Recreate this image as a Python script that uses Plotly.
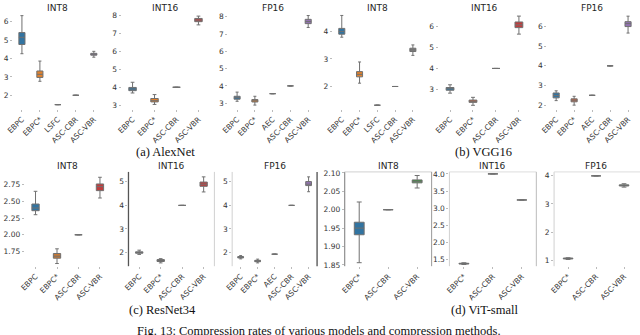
import plotly.graph_objects as go

W, H = 640, 335

# ---------------- data ----------------
alex_int8_cats = ["EBPC", "EBPC*", "LSFC", "ASC-CBR", "ASC-VBR"]
alex_int8_low = [4.26, 2.76, 1.49, 2.0, 4.07]
alex_int8_q1 = [4.76, 2.97, 1.49, 2.0, 4.18]
alex_int8_med = [5.15, 3.14, 1.49, 2.0, 4.22]
alex_int8_q3 = [5.41, 3.32, 1.49, 2.0, 4.28]
alex_int8_high = [6.33, 3.86, 1.49, 2.0, 4.39]

alex_int16_cats = ["EBPC", "EBPC*", "ASC-CBR", "ASC-VBR"]
alex_int16_low = [3.68, 3.04, 4.0, 7.49]
alex_int16_q1 = [3.81, 3.18, 4.0, 7.67]
alex_int16_med = [3.90, 3.25, 4.0, 7.76]
alex_int16_q3 = [3.99, 3.37, 4.0, 7.85]
alex_int16_high = [4.28, 3.59, 4.0, 7.98]

alex_fp16_cats = ["EBPC", "EBPC*", "AEC", "ASC-CBR", "ASC-VBR"]
alex_fp16_low = [3.11, 2.89, 3.55, 4.0, 7.38]
alex_fp16_q1 = [3.23, 3.07, 3.55, 4.0, 7.60]
alex_fp16_med = [3.32, 3.14, 3.55, 4.0, 7.72]
alex_fp16_q3 = [3.40, 3.21, 3.55, 4.0, 7.85]
alex_fp16_high = [3.64, 3.40, 3.55, 4.0, 8.07]

vgg_int8_cats = ["EBPC", "EBPC*", "LSFC", "ASC-CBR", "ASC-VBR"]
vgg_int8_low = [3.79, 2.12, 1.32, 2.0, 3.13]
vgg_int8_q1 = [3.90, 2.35, 1.32, 2.0, 3.27]
vgg_int8_med = [4.00, 2.44, 1.32, 2.0, 3.33]
vgg_int8_q3 = [4.11, 2.54, 1.32, 2.0, 3.39]
vgg_int8_high = [4.58, 2.89, 1.32, 2.0, 3.51]

vgg_int16_cats = ["EBPC", "EBPC*", "ASC-CBR", "ASC-VBR"]
vgg_int16_low = [2.82, 2.24, 4.0, 5.64]
vgg_int16_q1 = [2.96, 2.38, 4.0, 5.95]
vgg_int16_med = [3.03, 2.43, 4.0, 6.08]
vgg_int16_q3 = [3.09, 2.49, 4.0, 6.22]
vgg_int16_high = [3.22, 2.62, 4.0, 6.50]

vgg_fp16_cats = ["EBPC", "EBPC*", "AEC", "ASC-CBR", "ASC-VBR"]
vgg_fp16_low = [2.23, 2.0, 2.5, 4.0, 5.67]
vgg_fp16_q1 = [2.37, 2.17, 2.5, 4.0, 6.0]
vgg_fp16_med = [2.49, 2.25, 2.5, 4.0, 6.15]
vgg_fp16_q3 = [2.62, 2.32, 2.5, 4.0, 6.25]
vgg_fp16_high = [2.73, 2.45, 2.5, 4.0, 6.53]

res_int8_cats = ["EBPC", "EBPC*", "ASC-CBR", "ASC-VBR"]
res_int8_low = [2.30, 1.57, 2.0, 2.55]
res_int8_q1 = [2.36, 1.65, 2.0, 2.66]
res_int8_med = [2.40, 1.68, 2.0, 2.72]
res_int8_q3 = [2.46, 1.72, 2.0, 2.76]
res_int8_high = [2.65, 1.79, 2.0, 2.86]

res_int16_cats = ["EBPC", "EBPC*", "ASC-CBR", "ASC-VBR"]
res_int16_low = [1.92, 1.56, 4.0, 4.57]
res_int16_q1 = [1.97, 1.62, 4.0, 4.81]
res_int16_med = [2.0, 1.66, 4.0, 4.90]
res_int16_q3 = [2.03, 1.70, 4.0, 4.99]
res_int16_high = [2.10, 1.74, 4.0, 5.21]

res_fp16_cats = ["EBPC", "EBPC*", "AEC", "ASC-CBR", "ASC-VBR"]
res_fp16_low = [1.73, 1.56, 1.93, 4.0, 4.58]
res_fp16_q1 = [1.77, 1.61, 1.93, 4.0, 4.84]
res_fp16_med = [1.80, 1.64, 1.93, 4.0, 4.90]
res_fp16_q3 = [1.83, 1.67, 1.93, 4.0, 5.01]
res_fp16_high = [1.87, 1.72, 1.93, 4.0, 5.21]

vit_int8_cats = ["EBPC*", "ASC-CBR", "ASC-VBR"]
vit_int8_low = [1.856, 2.0, 2.059]
vit_int8_q1 = [1.932, 2.0, 2.073]
vit_int8_med = [1.95, 2.0, 2.077]
vit_int8_q3 = [1.966, 2.0, 2.081]
vit_int8_high = [2.021, 2.0, 2.093]

vit_int16_cats = ["EBPC*", "ASC-CBR", "ASC-VBR"]
vit_int16_low = [1.36, 4.0, 3.24]
vit_int16_q1 = [1.375, 4.0, 3.24]
vit_int16_med = [1.385, 4.0, 3.24]
vit_int16_q3 = [1.395, 4.0, 3.24]
vit_int16_high = [1.41, 4.0, 3.24]

vit_fp16_cats = ["EBPC*", "ASC-CBR", "ASC-VBR"]
vit_fp16_low = [1.03, 4.0, 3.60]
vit_fp16_q1 = [1.05, 4.0, 3.64]
vit_fp16_med = [1.06, 4.0, 3.66]
vit_fp16_q3 = [1.08, 4.0, 3.68]
vit_fp16_high = [1.09, 4.0, 3.72]

# y tick labels
alex_int8_ticks = [2, 3, 4, 5, 6]
alex_int16_ticks = [3, 4, 5, 6, 7, 8]
alex_fp16_ticks = [3, 4, 5, 6, 7, 8]
vgg_int8_ticks = [2, 3, 4]
vgg_int16_ticks = [3, 4, 5, 6]
vgg_fp16_ticks = [2, 3, 4, 5, 6]
res_int8_ticks = [1.75, 2.00, 2.25, 2.50, 2.75]
res_int16_ticks = [2, 3, 4, 5]
res_fp16_ticks = [2, 3, 4, 5]
vit_int8_ticks = [1.85, 1.90, 1.95, 2.00, 2.05, 2.10]
vit_int16_ticks = [1.5, 2.0, 2.5, 3.0, 3.5, 4.0]
vit_fp16_ticks = [1, 2, 3, 4]

# ---------------- styles ----------------
BLUE, ORANGE, GREEN, RED, PURPLE, GREY = "#3274a1", "#e1812c", "#3a923a", "#c03d3e", "#9372b2", "#7f7f7f"
RORANGE = "#d2603a"

panels = [
    dict(cats=alex_int8_cats, low=alex_int8_low, q1=alex_int8_q1, med=alex_int8_med, q3=alex_int8_q3, high=alex_int8_high,
         colors=[BLUE, ORANGE, GREEN, RED, PURPLE], title="INT8", xpx=(5, 96), row=0, yr=(1.25, 6.43), ticks=alex_int8_ticks, fmt="{:g}"),
    dict(cats=alex_int16_cats, low=alex_int16_low, q1=alex_int16_q1, med=alex_int16_med, q3=alex_int16_q3, high=alex_int16_high,
         colors=[BLUE, ORANGE, GREEN, RED], title="INT16", xpx=(115, 204), row=0, yr=(2.78, 8.11), ticks=alex_int16_ticks, fmt="{:g}"),
    dict(cats=alex_fp16_cats, low=alex_fp16_low, q1=alex_fp16_q1, med=alex_fp16_med, q3=alex_fp16_q3, high=alex_fp16_high,
         colors=[BLUE, ORANGE, GREEN, RED, PURPLE], title="FP16", xpx=(223, 313), row=0, yr=(2.66, 8.17), ticks=alex_fp16_ticks, fmt="{:g}"),
    dict(cats=vgg_int8_cats, low=vgg_int8_low, q1=vgg_int8_q1, med=vgg_int8_med, q3=vgg_int8_q3, high=vgg_int8_high,
         colors=[BLUE, ORANGE, GREEN, RED, GREY], title="INT8", xpx=(329, 419), row=0, yr=(1.18, 4.64), ticks=vgg_int8_ticks, fmt="{:g}"),
    dict(cats=vgg_int16_cats, low=vgg_int16_low, q1=vgg_int16_q1, med=vgg_int16_med, q3=vgg_int16_q3, high=vgg_int16_high,
         colors=[BLUE, RORANGE, GREEN, RED], title="INT16", xpx=(436, 529), row=0, yr=(2.06, 6.61), ticks=vgg_int16_ticks, fmt="{:g}"),
    dict(cats=vgg_fp16_cats, low=vgg_fp16_low, q1=vgg_fp16_q1, med=vgg_fp16_med, q3=vgg_fp16_q3, high=vgg_fp16_high,
         colors=[BLUE, RORANGE, GREEN, RED, PURPLE], title="FP16", xpx=(546, 637), row=0, yr=(1.8, 6.65), ticks=vgg_fp16_ticks, fmt="{:g}"),
    dict(cats=res_int8_cats, low=res_int8_low, q1=res_int8_q1, med=res_int8_med, q3=res_int8_q3, high=res_int8_high,
         colors=[BLUE, "#c87a35", GREEN, RED], title="INT8", xpx=(17, 104), row=1, yr=(1.53, 2.94), ticks=res_int8_ticks, fmt="{:.2f}"),
    dict(cats=res_int16_cats, low=res_int16_low, q1=res_int16_q1, med=res_int16_med, q3=res_int16_q3, high=res_int16_high,
         colors=["#7f8fa0", "#555555", GREEN, RED], title="INT16", xpx=(122, 209), row=1, yr=(1.42, 5.42), ticks=res_int16_ticks, fmt="{:g}"),
    dict(cats=res_fp16_cats, low=res_fp16_low, q1=res_fp16_q1, med=res_fp16_med, q3=res_fp16_q3, high=res_fp16_high,
         colors=["#7f8fa0", "#666666", GREEN, RED, PURPLE], title="FP16", xpx=(227, 313), row=1, yr=(1.42, 5.42), ticks=res_fp16_ticks, fmt="{:g}"),
    dict(cats=vit_int8_cats, low=vit_int8_low, q1=vit_int8_q1, med=vit_int8_med, q3=vit_int8_q3, high=vit_int8_high,
         colors=[BLUE, ORANGE, GREEN], title="INT8", xpx=(341, 429), row=1, yr=(1.8465, 2.1027), ticks=vit_int8_ticks, fmt="{:.2f}"),
    dict(cats=vit_int16_cats, low=vit_int16_low, q1=vit_int16_q1, med=vit_int16_med, q3=vit_int16_q3, high=vit_int16_high,
         colors=[BLUE, ORANGE, GREEN], title="INT16", xpx=(447, 535), row=1, yr=(1.31, 4.057), ticks=vit_int16_ticks, fmt="{:.1f}"),
    dict(cats=vit_fp16_cats, low=vit_fp16_low, q1=vit_fp16_q1, med=vit_fp16_med, q3=vit_fp16_q3, high=vit_fp16_high,
         colors=[BLUE, ORANGE, "#5a8a6a"], title="FP16", xpx=(553, 638), row=1, yr=(0.79, 4.14), ticks=vit_fp16_ticks, fmt="{:g}"),
]

ROWS_PX = [(11, 108), (172, 268)]
TITLE_Y = [5, 166]
TICKFONT = dict(family="DejaVu Sans", size=7.5, color="#333333")

fig = go.Figure()
layout = dict(width=W, height=H, margin=dict(l=0, r=0, t=0, b=0),
              paper_bgcolor="white", plot_bgcolor="white", showlegend=False,
              boxmode="overlay", annotations=[], shapes=[])

for i, p in enumerate(panels):
    ax = "" if i == 0 else str(i + 1)
    for j, c in enumerate(p["cats"]):
        fig.add_trace(go.Box(
            x=[c], q1=[p["q1"][j]], median=[p["med"][j]], q3=[p["q3"][j]],
            lowerfence=[p["low"][j]], upperfence=[p["high"][j]],
            fillcolor=p["colors"][j], line=dict(color="#707070", width=1),
            width=0.34, whiskerwidth=0.5, boxpoints=False,
            xaxis="x" + ax, yaxis="y" + ax, showlegend=False, hoverinfo="skip"))
    x0, x1 = p["xpx"]
    y0, y1 = ROWS_PX[p["row"]]
    n = len(p["cats"])
    layout["xaxis" + ax] = dict(domain=[x0 / W, x1 / W], anchor="y" + ax, type="category",
                                categoryorder="array", categoryarray=p["cats"], range=[-0.5, n - 0.5],
                                tickangle=-45, tickfont=TICKFONT, showgrid=False, zeroline=False,
                                showline=False, ticks="outside", ticklen=2, tickcolor="#bbbbbb")
    layout["yaxis" + ax] = dict(domain=[1 - y1 / H, 1 - y0 / H], anchor="x" + ax, range=list(p["yr"]),
                                tickvals=p["ticks"], ticktext=[p["fmt"].format(v) for v in p["ticks"]],
                                tickfont=TICKFONT, showgrid=False, zeroline=False, showline=False,
                                ticks="outside", ticklen=2, tickcolor="#bbbbbb")
    layout["annotations"].append(dict(text=p["title"], x=(x0 + x1) / 2 / W, y=1 - TITLE_Y[p["row"]] / H,
                                      xref="paper", yref="paper", showarrow=False, xanchor="center", yanchor="middle",
                                      font=dict(family="DejaVu Sans", size=9, color="#262626")))

def vline(x, ya, yb, color, w=1):
    layout["shapes"].append(dict(type="line", xref="paper", yref="paper", x0=x / W, x1=x / W,
                                 y0=1 - ya / H, y1=1 - yb / H, line=dict(color=color, width=w)))

def hline(y, xa, xb, color, w=1):
    layout["shapes"].append(dict(type="line", xref="paper", yref="paper", x0=xa / W, x1=xb / W,
                                 y0=1 - y / H, y1=1 - y / H, line=dict(color=color, width=w)))

vline(122, 172, 268, "#555555", 1.3)
vline(209, 172, 268, "#d0d0d0")
vline(227, 172, 268, "#d0d0d0")
vline(313, 172, 268, "#666666", 1.5)
vline(341, 172, 268, "#777777")
hline(172, 341, 429, "#d0d0d0")
vline(429, 172, 268, "#999999")
vline(447, 172, 268, "#d0d0d0")
hline(172, 447, 535, "#dddddd")
vline(535, 172, 268, "#bbbbbb")
vline(553, 172, 268, "#d0d0d0")
hline(172, 553, 640, "#dddddd")

SERIF = dict(family="Liberation Serif", size=12.5, color="#111111")
for txt, cx, cy in [("(a) AlexNet", 159, 152), ("(b) VGG16", 482, 152),
                    ("(c) ResNet34", 156, 313), ("(d) ViT-small", 483, 313),
                    ("Fig. 13: Compression rates of various models and compression methods.", 315, 334)]:
    layout["annotations"].append(dict(text=txt, x=cx / W, y=1 - cy / H, xref="paper", yref="paper",
                                      showarrow=False, xanchor="center", yanchor="middle", font=SERIF))

fig.update_layout(**layout)
fig.write_html("out.html", config={"displayModeBar": False, "staticPlot": True},
               post_script="document.body.style.margin='0';document.body.style.padding='0';document.body.style.overflow='hidden';")
